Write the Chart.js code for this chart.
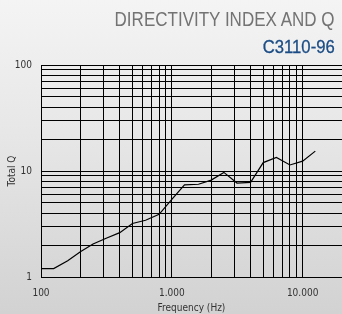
<!DOCTYPE html>
<html>
<head>
<meta charset="utf-8">
<script src="https://cdn.jsdelivr.net/npm/chart.js@4"></script>
<style>
    html, body {
        margin: 0;
        padding: 0;
        width: 342px;
        height: 314px;
        overflow: hidden;
        background: linear-gradient(to bottom, #f4f4f4 0%, #e6e6e6 45%, #d2d2d2 100%);
    }
    .head {
        position: absolute;
        right: 7px;
        white-space: nowrap;
        font-family: "Liberation Sans", Arial, sans-serif;
        transform-origin: right top;
        line-height: 1;
    }
    #title {
        top: 9px;
        font-size: 20px;
        color: #737373;
    }
    #subtitle {
        top: 38px;
        right: 7px;
        font-size: 18px;
        color: #1b4c84;
        -webkit-text-stroke: 0.3px #1b4c84;
    }
    #wrap {
        position: absolute;
        left: 0;
        top: 0;
        width: 342px;
        height: 314px;
    }
</style>
</head>
<body>
<div id="wrap"><canvas id="chart"></canvas></div>
<div class="head" id="title">DIRECTIVITY INDEX AND Q</div>
<div class="head" id="subtitle">C3110-96</div>
<script>
// Frequency points (Hz) and Total Q
const freqs = [100, 125, 160, 200, 250, 315, 400, 500, 630, 800, 1000, 1250, 1600, 2000, 2500, 3150, 4000, 5000, 6300, 8000, 10000, 12500];
const totalQ = [1.2, 1.2, 1.42, 1.73, 2.05, 2.32, 2.62, 3.2, 3.43, 3.9, 5.4, 7.4, 7.5, 8.2, 9.7, 7.7, 7.8, 12.0, 13.4, 11.4, 12.4, 15.4];

// Grid ticks
const xTicks = [100, 200, 300, 400, 500, 600, 700, 800, 900,
    1000, 2000, 3000, 4000, 5000, 6000, 7000, 8000, 9000, 10000, 20000];
const xLabels = { 100: "100", 1000: "1.000", 10000: "10.000" };
const yTicks = [1, 2, 3, 4, 5, 6, 7, 8, 9, 10, 20, 30, 40, 50, 60, 70, 80, 90, 100];
const yLabels = { 1: "1", 10: "10", 100: "100" };

const FONT = "'DejaVu Sans Condensed', 'Liberation Sans', sans-serif";

// squeeze the heading text to the condensed width of the original
function fitWidth(id, target) {
    const el = document.getElementById(id);
    const w = el.getBoundingClientRect().width;
    el.style.transform = `scaleX(${target / w})`;
}
fitWidth("title", 220);
fitWidth("subtitle", 72);

new Chart(document.getElementById("chart"), {
    type: "line",
    data: {
        datasets: [{
            data: freqs.map((f, i) => ({ x: f, y: totalQ[i] })),
            borderColor: "#000",
            borderWidth: 1.2,
            pointRadius: 0,
            tension: 0,
            fill: false
        }]
    },
    options: {
        responsive: true,
        maintainAspectRatio: false,
        animation: false,
        layout: { padding: { top: 65, right: 0, left: 0, bottom: 0 } },
        plugins: {
            legend: { display: false },
            tooltip: { enabled: false }
        },
        scales: {
            x: {
                type: "logarithmic",
                min: 100,
                max: 20000,
                afterBuildTicks: s => { s.ticks = xTicks.map(v => ({ value: v })); },
                afterFit: s => {
                    s.height = 37;
                    s.paddingLeft = 0;
                    s.paddingRight = 0;
                },
                grid: { color: "#000", lineWidth: 1, drawTicks: false },
                border: { color: "#000", width: 1 },
                ticks: {
                    autoSkip: false,
                    maxRotation: 0,
                    padding: 10,
                    color: "#333",
                    font: { family: FONT, size: 10 },
                    callback: v => xLabels[v] || ""
                },
                title: {
                    display: true,
                    text: "Frequency (Hz)",
                    color: "#333",
                    font: { family: FONT, size: 10 },
                    padding: { top: 0, bottom: 0 }
                }
            },
            y: {
                type: "logarithmic",
                min: 1,
                max: 100,
                afterBuildTicks: s => { s.ticks = yTicks.map(v => ({ value: v })); },
                afterFit: s => {
                    s.width = 41;
                    s.paddingTop = 0;
                    s.paddingBottom = 0;
                },
                grid: { color: "#000", lineWidth: 1, drawTicks: false },
                border: { color: "#000", width: 1 },
                ticks: {
                    autoSkip: false,
                    padding: 9,
                    color: "#333",
                    font: { family: FONT, size: 10 },
                    callback: v => yLabels[v] || ""
                },
                title: {
                    display: true,
                    text: "Total Q",
                    color: "#333",
                    font: { family: FONT, size: 10 },
                    padding: { top: 6, bottom: 0 }
                }
            }
        }
    }
});
</script>
</body>
</html>
